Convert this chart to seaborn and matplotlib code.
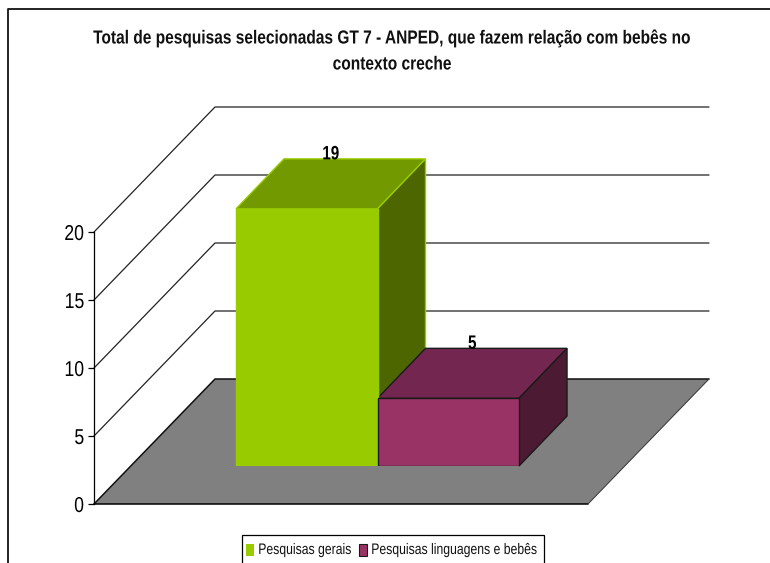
import matplotlib
matplotlib.use('Agg')
import matplotlib.pyplot as plt
import pandas as pd
import seaborn as sns
from matplotlib.patches import Polygon, Rectangle
from matplotlib.patheffects import AbstractPathEffect
from matplotlib.transforms import Affine2D

title_lines = ['Total de pesquisas selecionadas GT 7 - ANPED, que fazem relação com bebês no', 'contexto creche']
categories = ['Pesquisas gerais', 'Pesquisas linguagens e bebês']
values = [19, 5]
y_ticks = [0, 5, 10, 15, 20]
front_colors = ['#99CC00', '#993366']
top_colors = ['#739900', '#732650']
side_colors = ['#4D6600', '#4D1A33']
edge_colors = ['#99CC00', '#1A1A1A']
swatch_edges = ['none', '#1A1A1A']

W, H = 770, 563
DEPTH_FLOOR = (121, -125)
DEPTH_BAR = (48, -50)


# Liberation Sans Narrow nao existe aqui: aperta o texto na horizontal
class Narrow(AbstractPathEffect):
    def __init__(self, anchor='center', sx=0.82):
        super().__init__()
        self.anchor = anchor
        self.sx = sx

    def draw_path(self, renderer, gc, tpath, affine, rgbFace=None):
        box = tpath.get_extents(affine)
        cx = {'left': box.x0, 'center': (box.x0 + box.x1) / 2, 'right': box.x1}[self.anchor]
        squeezed = affine + Affine2D().translate(-cx, 0).scale(self.sx, 1).translate(cx, 0)
        renderer.draw_path(gc, tpath, squeezed, rgbFace)


sns.set_theme(style='white')
plt.rcParams['font.family'] = ['Liberation Sans', 'DejaVu Sans']

fig = plt.figure(figsize=(W / 100, H / 100), dpi=100)

# fundo em pixels da imagem
bg = fig.add_axes([0, 0, 1, 1], zorder=0)
bg.set_xlim(0, W)
bg.set_ylim(H, 0)
bg.axis('off')


def rect(x0, y_top, w, h):
    return [x0 / W, 1 - (y_top + h) / H, w / W, h / H]


# eixo da frente (escala 0-20)
ax = fig.add_axes(rect(94, 232, 494, 272), zorder=1)
ax.patch.set_alpha(0)
ax.set_ylim(0, 20)
ax.set_xlim(0, 1)
ax.set_xticks([])
ax.set_yticks(y_ticks)
sns.despine(ax=ax, bottom=True)
ax.spines['left'].set_color('black')
ax.spines['left'].set_linewidth(0.9)
ax.tick_params(axis='y', left=True, length=4, width=0.9, color='black', labelsize=15.5, pad=3, labelcolor='black')
for lab in ax.get_yticklabels():
    lab.set_path_effects([Narrow('right')])


def to_px(axes, x, y):
    return bg.transData.inverted().transform(axes.transData.transform((x, y)))


# chao e linhas de grade
x0, y0 = to_px(ax, 0, 0)
x1, _ = to_px(ax, 1, 0)
dx, dy = DEPTH_FLOOR
bg.add_patch(Polygon([(x0, y0), (x1, y0), (x1 + dx, y0 + dy), (x0 + dx, y0 + dy)],
                     facecolor='#808080', edgecolor='none'))
bg.plot([x0, x1], [y0, y0], color='black', lw=1.1)
bg.plot([x0, x0 + dx, x1 + dx], [y0, y0 + dy, y0 + dy], color='#111111', lw=1.1)
bg.plot([x1, x1 + dx], [y0, y0 + dy], color='#333333', lw=0.7)
for t in y_ticks[1:]:
    _, yt = to_px(ax, 0, t)
    bg.plot([x0, x0 + dx, x1 + dx], [yt, yt + dy, yt + dy], color='#222222', lw=0.9)

# moldura cortada
bg.plot([7.5, 7.5, W], [H, 8.5, 8.5], color='#111111', lw=1.3, clip_on=False)

# barras, num eixo deslocado para o meio da profundidade
bars = fig.add_axes(rect(130.5, 194, 494, 272), zorder=2)
bars.patch.set_alpha(0)
df = pd.DataFrame({'grupo': [''] * len(values), 'serie': categories, 'valor': values})
sns.barplot(data=df, x='grupo', y='valor', hue='serie', hue_order=categories, palette=front_colors,
            width=0.573, gap=0, saturation=1, legend=False, ax=bars)
bars.set_xlim(-0.5, 0.5)
bars.set_ylim(0, 20.1)
bars.axis('off')

ddx, ddy = DEPTH_BAR
patches = sorted(bars.patches, key=lambda p: p.get_x())
for i, p in enumerate(patches):
    p.set_edgecolor(edge_colors[i])
    p.set_linewidth(1.0)
    left, top = to_px(bars, p.get_x(), p.get_height())
    right, base = to_px(bars, p.get_x() + p.get_width(), 0)
    bg.add_patch(Polygon([(left, top), (right, top), (right + ddx, top + ddy), (left + ddx, top + ddy)],
                         facecolor=top_colors[i], edgecolor=edge_colors[i], lw=1.0, zorder=5 + i))
    bg.add_patch(Polygon([(right, top), (right + ddx, top + ddy), (right + ddx, base + ddy), (right, base)],
                         facecolor=side_colors[i], edgecolor=edge_colors[i], lw=1.0, zorder=5 + i))
    bg.text((left + right) / 2 + ddx / 2, top + ddy - 4, str(values[i]), ha='center', va='center',
            fontsize=14, fontweight='bold', color='black', zorder=10, path_effects=[Narrow(sx=0.78)])

# titulo
for y, line in zip([39, 65], title_lines):
    bg.text(392, y, line, ha='center', va='center', fontsize=13.6, fontweight='bold', color='#111111',
            path_effects=[Narrow()])

# legenda, cortada pela borda de baixo como no original
bg.add_patch(Rectangle((241.5, 534.5), 302, 40, facecolor='white', edgecolor='black', lw=0.9, zorder=20))
for sx, tx, color, edge, label in zip([245.5, 358.5], [258, 371], front_colors, swatch_edges, categories):
    bg.add_patch(Rectangle((sx, 544), 8.5, 12, facecolor=color, edgecolor=edge, lw=0.8, zorder=21))
    bg.text(tx, 550, label, ha='left', va='center', fontsize=11, color='#111111', zorder=21,
            path_effects=[Narrow('left', sx=0.8)])

fig.savefig('out.png', dpi=100, facecolor='white')
